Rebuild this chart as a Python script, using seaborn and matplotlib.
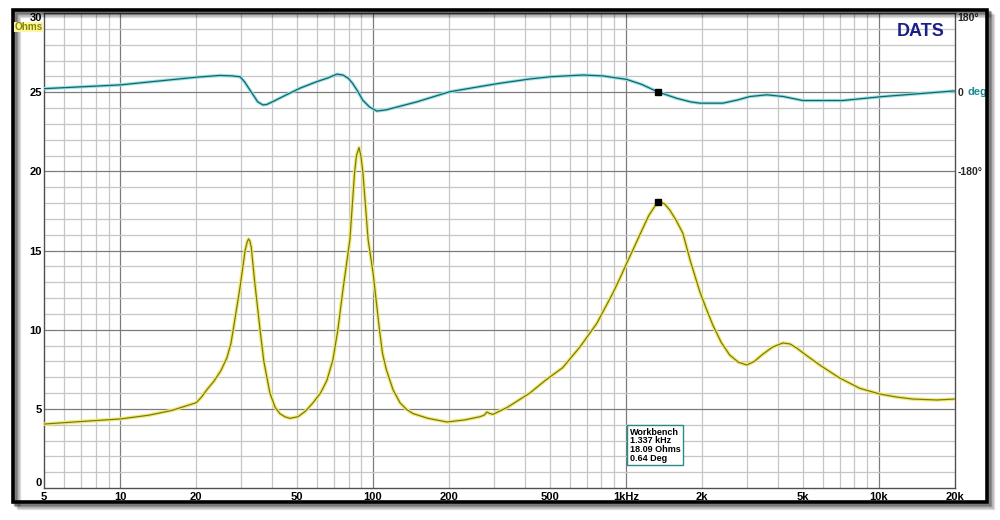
import numpy as np
import pandas as pd
import matplotlib
matplotlib.use("Agg")
import matplotlib.pyplot as plt
import matplotlib.ticker as mticker
import seaborn as sns
from matplotlib.patches import Rectangle

# ---------------- data ----------------
imp_freq = [5, 7, 10, 13, 16, 20, 21, 22, 23.5, 25, 26.4, 27.4, 28.0, 29.8, 31.2,
            31.8, 32.2, 32.6, 33.0, 34.0, 35.8, 37, 39.1, 41, 42.8, 44.8, 46.9,
            50.5, 54, 57.8, 62, 65.7, 69.4, 72.6, 76, 81.0, 84.5, 86, 88.0, 89.5,
            91.2, 95.6, 100, 106, 109, 113, 120, 128, 136, 144, 165, 196, 230, 264,
            275, 282, 290, 298, 340, 417, 480, 562, 657, 767, 887, 950, 1007, 1070,
            1135, 1230, 1337, 1420, 1490, 1580, 1678, 1800, 1959, 2080, 2204, 2380,
            2571, 2780, 3004, 3220, 3474, 3800, 4167, 4450, 4731, 5250, 5833, 6996,
            8394, 10070, 11700, 13600, 16940, 20000]
imp_ohm = [4.04, 4.2, 4.36, 4.6, 4.9, 5.39, 5.75, 6.2, 6.75, 7.4, 8.2, 9.1, 10.0, 12.7, 15.0,
           15.55, 15.73, 15.6, 15.2, 13.1, 9.9, 8.0, 6.0, 5.1, 4.7, 4.5, 4.4,
           4.5, 4.85, 5.37, 6.0, 6.8, 8.1, 10.0, 12.5, 15.7, 19.9, 21.0, 21.5, 21.0,
           19.9, 15.7, 13.6, 10.0, 8.5, 7.45, 6.2, 5.37, 4.95, 4.7, 4.4, 4.17, 4.3, 4.5,
           4.6, 4.8, 4.7, 4.65, 5.1, 6.0, 6.8, 7.6, 8.9, 10.4, 12.3, 13.3, 14.2, 15.1,
           16.0, 17.2, 18.09, 17.95, 17.56, 16.9, 16.1, 14.3, 12.4, 11.3, 10.3, 9.2,
           8.4, 7.95, 7.77, 8.0, 8.45, 8.9, 9.16, 9.1, 8.84, 8.3, 7.77, 6.95,
           6.3, 5.94, 5.75, 5.62, 5.56, 5.62]

ph_freq = [5, 10, 20, 24.8, 27.7, 29.8, 31, 32.6, 35, 36.7, 38, 41, 44, 51.4, 60, 66,
           72, 76, 80, 83, 87, 91, 97, 103.6, 113, 149, 201, 260, 315, 417, 500, 675,
           810, 1007, 1150, 1337, 1589, 1800, 1959, 2415, 2750, 3083, 3605, 4200,
           5000, 7195, 10350, 20000]
ph_deg = [8, 16.5, 34, 38, 37, 35, 24, 5, -22, -29, -28, -19, -10, 9, 24, 32,
          41, 39, 31, 20, 2, -18, -34, -43, -40, -22, 1, 12, 20, 30, 35, 39,
          37, 29, 18, 0.64, -14, -22, -25, -25, -18, -10, -6, -10,
          -19, -19, -10, 3]

x_ticks = [5, 10, 20, 50, 100, 200, 500, 1000, 2000, 5000, 10000, 20000]
x_labels = ["5", "10", "20", "50", "100", "200", "500", "1kHz", "2k", "5k", "10k", "20k"]
y_ticks = [0, 5, 10, 15, 20, 25, 30]
ph_ticks = [180, 0, -180]
ph_labels = ["180°", "0", "-180°"]

marker_freq = 1337
marker_ohm = 18.09
marker_deg = 0.64
info_lines = ["Workbench", "1.337 kHz", "18.09 Ohms", "0.64 Deg"]

imp_df = pd.DataFrame({"freq": imp_freq, "ohm": imp_ohm})
ph_df = pd.DataFrame({"freq": ph_freq, "deg": ph_deg})

# ---------------- style ----------------
sns.set_style("white")
plt.rcParams["font.family"] = ["Liberation Sans", "DejaVu Sans"]
plt.rcParams["font.weight"] = "bold"

fig = plt.figure(figsize=(10, 5.2), dpi=100)
fig.patch.set_facecolor("white")

# outer frame with shadow
for i, a in enumerate([0.10, 0.16, 0.25, 0.35]):
    off = (4 - i) * 1.6
    fig.patches.append(Rectangle((13 / 1000 + off / 1000, 18 / 520 - off / 520),
                                 974 / 1000, 492 / 520, transform=fig.transFigure,
                                 facecolor="none", edgecolor="black", lw=2.5,
                                 alpha=a, zorder=0))
fig.patches.append(Rectangle((13 / 1000, 18 / 520), 974 / 1000, 492 / 520,
                             transform=fig.transFigure, facecolor="none",
                             edgecolor="black", lw=2.6, zorder=1))

ax = fig.add_axes([0.044, 0.0615, 0.911, 0.9135])
ax.set_xscale("log")
ax.set_xlim(5, 20000)
ax.set_ylim(0, 30)

# grid
light = "#c6c6c6"
dark = "#7c7c7c"
for dec in [1, 10, 100, 1000, 10000]:
    for m in range(1, 10):
        f = m * dec
        if 5 < f < 20000:
            ax.axvline(f, color=dark if m == 1 else light, lw=0.9, zorder=0)
for h in range(1, 30):
    ax.axhline(h, color=dark if h % 5 == 0 else light, lw=0.9, zorder=0)

# impedance curve (halo + core)
sns.lineplot(data=imp_df, x="freq", y="ohm", ax=ax, color="#f0ea70", lw=2.6,
             estimator=None, sort=True, zorder=3)
sns.lineplot(data=imp_df, x="freq", y="ohm", ax=ax, color="#7a7618", lw=0.85,
             estimator=None, sort=True, zorder=4)
ax.plot([marker_freq], [marker_ohm], marker="s", color="black", ms=4, zorder=6)
ax.set_xlabel("")
ax.set_ylabel("")
for s in ax.spines.values():
    s.set_color("#505050")
    s.set_linewidth(1.0)

# phase on twin axis
ax2 = ax.twinx()
sns.lineplot(data=ph_df, x="freq", y="deg", ax=ax2, color="#98e2e2", lw=2.4,
             estimator=None, sort=True, zorder=3)
sns.lineplot(data=ph_df, x="freq", y="deg", ax=ax2, color="#14656e", lw=0.9,
             estimator=None, sort=True, zorder=4)
ax2.plot([marker_freq], [marker_deg], marker="s", color="black", ms=4, zorder=6)
ax2.set_ylim(-900, 180)
ax2.set_yticks(ph_ticks)
ax2.set_yticklabels(ph_labels)
ax2.tick_params(axis="y", length=0, labelsize=7.5, pad=2)
for lab in ax2.get_yticklabels():
    lab.set_fontweight("bold")
ax2.get_yticklabels()[0].set_va("top")
ax2.set_ylabel("")
ax2.set_xlabel("")
for s in ax2.spines.values():
    s.set_visible(False)
ax2.annotate("deg", xy=(1.0, 0), xycoords=("axes fraction", "data"),
             xytext=(9, 0), textcoords="offset points", va="center", ha="left",
             fontsize=8, fontweight="bold", color="#1a8a96")

# x / y ticks (set after twin so they are not reset)
ax.set_xlim(5, 20000)
ax.xaxis.set_major_locator(mticker.FixedLocator(x_ticks))
ax.xaxis.set_major_formatter(mticker.FixedFormatter(x_labels))
ax.xaxis.set_minor_locator(mticker.NullLocator())
ax.set_yticks(y_ticks)
ax.set_yticklabels([str(v) for v in y_ticks])
ax.tick_params(axis="both", which="both", length=0, labelsize=8, colors="black")
ax.tick_params(axis="x", pad=3)
ax.tick_params(axis="y", pad=1.5)
ax2.tick_params(axis="x", which="both", length=0)
ylabs = ax.get_yticklabels()
for lab in ax.get_xticklabels() + ylabs:
    lab.set_fontweight("bold")
ylabs[0].set_va("bottom")
ylabs[-1].set_va("top")

# Ohms label
fig.text(0.043, 1 - 27 / 520, "Ohms", ha="right", va="center", fontsize=7.2,
         fontweight="bold", color="#8a8400",
         bbox=dict(facecolor="#fbf6a0", edgecolor="none", pad=0.2))

# DATS
ax.text(0.989, 0.978, "DATS", transform=ax.transAxes, ha="right", va="top",
        fontsize=13, fontweight="bold", color="#1b1f8a")

# info box
ax.text(0.643, 0.127, "\n".join(info_lines), transform=ax.transAxes, ha="left",
        va="top", fontsize=6.5, fontweight="bold", color="black", linespacing=0.95,
        bbox=dict(facecolor="white", edgecolor="#2a8a8a", lw=1.0,
                  boxstyle="square,pad=0.3"), zorder=8)

fig.savefig("out.png", dpi=100, facecolor="white")
